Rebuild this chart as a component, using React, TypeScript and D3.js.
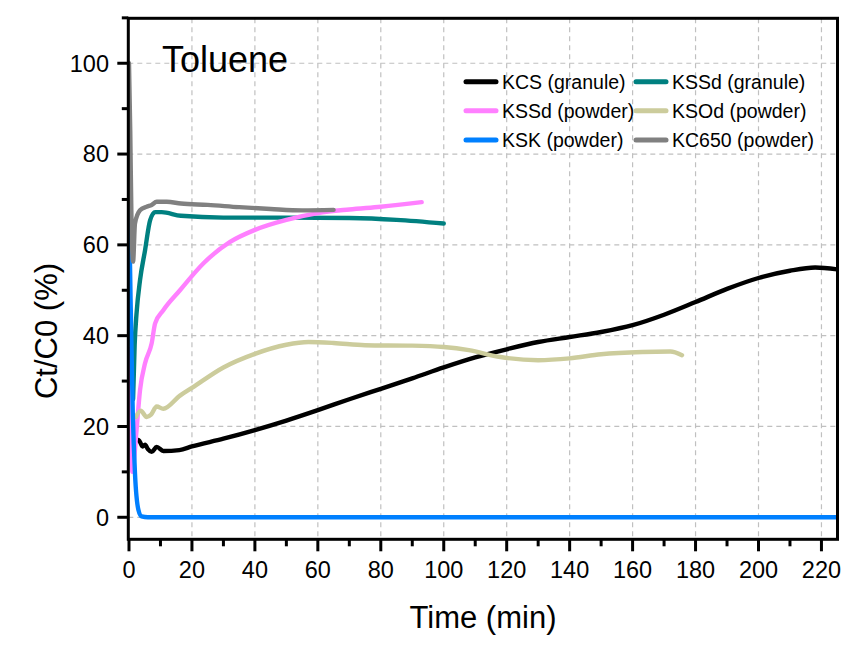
import React from "react";
import * as d3 from "d3";

type Pt = [number, number];

const kcsGranule: Pt[] = [[3.0,17],[3.5,16.6],[4.3,15.6],[5.1,16.0],[6.0,15.0],[7.2,14.4],[8.8,15.5],[10.9,14.6],[16,14.8],[20,15.6],[30,17.3],[40,19.2],[50,21.3],[60,23.6],[70,26],[80,28.3],[90,30.6],[100,33],[110,35.2],[120,37],[130,38.6],[140,39.7],[150,40.8],[160,42.3],[170,44.6],[180,47.4],[190,50.3],[200,52.7],[210,54.3],[218,55],[225,54.6]];
const kssdGranule: Pt[] = [[1.3,26],[1.8,38],[2.4,44.9],[3.5,52.2],[5.1,58.8],[6.7,65.4],[8.3,67.2],[10.4,67.2],[16.5,66.4],[30,66],[50,66],[70,65.9],[85,65.5],[100,64.7]];
const kssdPowder: Pt[] = [[0.2,37],[0.6,20],[1.0,10],[1.5,12],[2.4,19.2],[3.5,28],[5.1,33.9],[7.2,38.3],[8.3,42.7],[10.9,45.6],[16.2,50],[23.6,55.9],[32,60.6],[40,63.3],[50,65.5],[60,67],[70,67.8],[80,68.4],[93,69.4]];
const ksodPowder: Pt[] = [[2.2,22.1],[3.7,23.5],[5.6,22.1],[7,22.6],[8.8,24.4],[10.9,23.9],[16.2,26.8],[20,28.5],[30,33],[40,36],[50,38],[57,38.6],[65,38.4],[75,37.9],[90,37.8],[100,37.5],[108,36.8],[118,35.3],[130,34.6],[140,35],[150,35.9],[163,36.4],[172,36.5],[175.7,35.7]];
const kskPowder: Pt[] = [[0,70],[0.5,48],[1.2,23],[1.9,9.7],[3.0,1.6],[4.0,0.2],[6,0],[225.5,0]];
const kc650Powder: Pt[] = [[0,100],[0.4,85],[0.8,65],[1.3,56.3],[1.9,64.7],[3.5,67.6],[5.6,68.4],[7.2,68.8],[8.8,69.5],[12,69.5],[16.5,69.1],[25,68.8],[35,68.3],[45,67.9],[55,67.6],[65,67.7]];

const seriesNames = ["KCS (granule)", "KSSd (granule)", "KSSd (powder)", "KSOd (powder)", "KSK (powder)", "KC650 (powder)"];
const seriesData = [kcsGranule, kssdGranule, kssdPowder, ksodPowder, kskPowder, kc650Powder];
const seriesColors = ["#000000", "#008080", "#ff80ff", "#cccc9c", "#0080ff", "#808080"];

const xMajor = [0, 20, 40, 60, 80, 100, 120, 140, 160, 180, 200, 220];
const xMinor = [10, 30, 50, 70, 90, 110, 130, 150, 170, 190, 210];
const yMajor = [0, 20, 40, 60, 80, 100];
const yMinor = [10, 30, 50, 70, 90, 110];

const L = 128.3, R = 837.5, T = 18.3, B = 539.3;
const FONT = "'Liberation Sans', Arial, sans-serif";

export default function App() {
  const x = d3.scaleLinear().domain([-0.22, 225.1]).range([L, R]);
  const y = d3.scaleLinear().domain([-4.85, 109.9]).range([B, T]);
  const line = d3.line<Pt>().x(d => x(d[0])).y(d => y(d[1])).curve(d3.curveMonotoneX);

  const legendPos = [
    [466, 81.7], [636, 81.7],
    [466, 110.7], [636, 110.7],
    [466, 140], [636, 140],
  ];

  return (
    <svg width={857} height={646} style={{ position: "absolute", left: 0, top: 0, background: "#fff" }}>
      <defs>
        <clipPath id="plot"><rect x={L} y={T} width={R - L} height={B - T} /></clipPath>
      </defs>
      {/* grid */}
      {xMajor.filter(v => v > 0).map(v => (
        <line key={"gx" + v} x1={x(v)} x2={x(v)} y1={T} y2={B} stroke="#c0c0c0" strokeWidth={1.2} strokeDasharray="5,4" />
      ))}
      {yMajor.map(v => (
        <line key={"gy" + v} x1={L} x2={R} y1={y(v)} y2={y(v)} stroke="#c0c0c0" strokeWidth={1.2} strokeDasharray="5,4" />
      ))}
      {/* series */}
      <g clipPath="url(#plot)">
        {seriesData.map((d, i) => (
          <path key={i} d={line(d) || ""} fill="none" stroke={seriesColors[i]} strokeWidth={4.4} strokeLinejoin="round" strokeLinecap="round" />
        ))}
      </g>
      {/* frame */}
      <rect x={L} y={T} width={R - L} height={B - T} fill="none" stroke="#000" strokeWidth={3} />
      {/* x ticks */}
      {xMajor.map(v => (
        <g key={"xt" + v}>
          <line x1={x(v)} x2={x(v)} y1={B} y2={B + 12} stroke="#000" strokeWidth={3} />
          <text x={x(v)} y={578} textAnchor="middle" fontFamily={FONT} fontSize={23.5} fill="#000">{v}</text>
        </g>
      ))}
      {xMinor.map(v => (
        <line key={"xm" + v} x1={x(v)} x2={x(v)} y1={B} y2={B + 7} stroke="#000" strokeWidth={3} />
      ))}
      {/* y ticks */}
      {yMajor.map(v => (
        <g key={"yt" + v}>
          <line x1={L - 11} x2={L} y1={y(v)} y2={y(v)} stroke="#000" strokeWidth={3} />
          <text x={109} y={y(v) + 8.3} textAnchor="end" fontFamily={FONT} fontSize={23.5} fill="#000">{v}</text>
        </g>
      ))}
      {yMinor.map(v => (
        <line key={"ym" + v} x1={L - 6.5} x2={L} y1={y(v)} y2={y(v)} stroke="#000" strokeWidth={3} />
      ))}
      {/* axis titles */}
      <text x={483} y={628} textAnchor="middle" fontFamily={FONT} fontSize={31} fill="#000">Time (min)</text>
      <text transform={`translate(57, 331) rotate(-90)`} textAnchor="middle" fontFamily={FONT} fontSize={31} fill="#000">Ct/C0 (%)</text>
      {/* title */}
      <text x={162} y={72} fontFamily={FONT} fontSize={36} fill="#000">Toluene</text>
      {/* legend */}
      {seriesNames.map((n, i) => {
        const [lx, ly] = legendPos[i];
        return (
          <g key={"lg" + i}>
            <line x1={lx} x2={lx + 30} y1={ly} y2={ly} stroke={seriesColors[i]} strokeWidth={5} strokeLinecap="round" />
            <text x={lx + 36} y={ly + 6.8} fontFamily={FONT} fontSize={19.5} fill="#000">{n}</text>
          </g>
        );
      })}
    </svg>
  );
}
